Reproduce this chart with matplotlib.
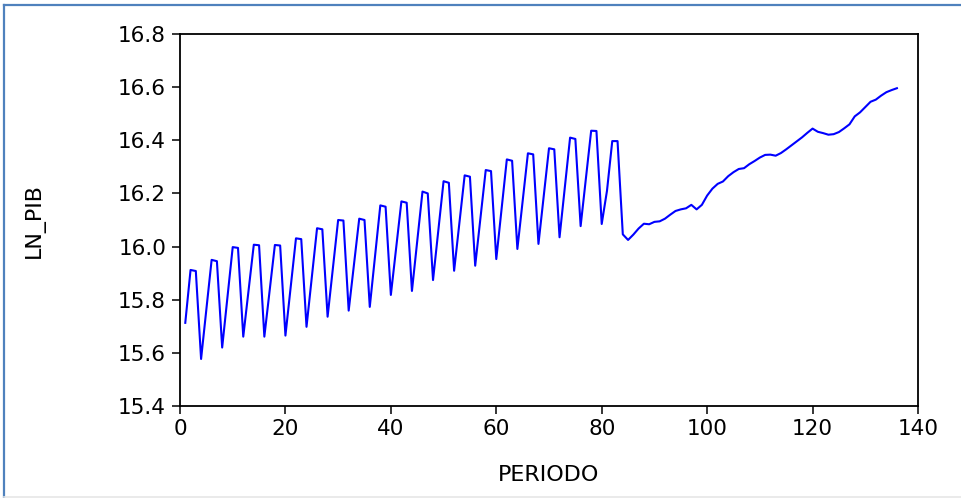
import matplotlib
matplotlib.use("Agg")
import matplotlib.pyplot as plt
from matplotlib.lines import Line2D
import numpy as np

periods = list(range(1, 137))
ln_pib = [
    15.713, 15.912, 15.908, 15.577, 15.764, 15.950, 15.945, 15.620, 15.809, 15.998,
    15.995, 15.661, 15.834, 16.007, 16.005, 15.661, 15.833, 16.006, 16.004, 15.665,
    15.848, 16.031, 16.028, 15.698, 15.883, 16.069, 16.065, 15.736, 15.918, 16.100,
    16.098, 15.759, 15.932, 16.105, 16.100, 15.773, 15.964, 16.155, 16.150, 15.818,
    15.994, 16.170, 16.165, 15.833, 16.020, 16.207, 16.200, 15.874, 16.060, 16.246,
    16.240, 15.909, 16.089, 16.268, 16.263, 15.928, 16.108, 16.288, 16.284, 15.953,
    16.140, 16.328, 16.323, 15.991, 16.171, 16.351, 16.347, 16.010, 16.190, 16.370,
    16.366, 16.035, 16.222, 16.410, 16.405, 16.077, 16.256, 16.436, 16.435, 16.085,
    16.210, 16.397, 16.397, 16.046, 16.025, 16.045, 16.068, 16.086, 16.084, 16.093,
    16.095, 16.105, 16.120, 16.134, 16.140, 16.144, 16.157, 16.140, 16.157, 16.192,
    16.218, 16.236, 16.245, 16.265, 16.280, 16.292, 16.295, 16.310, 16.322, 16.335,
    16.345, 16.346, 16.342, 16.352, 16.366, 16.381, 16.396, 16.411, 16.428, 16.444,
    16.432, 16.427, 16.421, 16.423, 16.431, 16.445, 16.460, 16.490, 16.505, 16.525,
    16.545, 16.553, 16.568, 16.581, 16.589, 16.596,
]
x_ticks = [0, 20, 40, 60, 80, 100, 120, 140]
y_ticks = [15.4, 15.6, 15.8, 16.0, 16.2, 16.4, 16.6, 16.8]

plt.rcParams['font.family'] = ['DejaVu Sans']

fig = plt.figure(figsize=(9.61, 4.98), dpi=100)
ax = fig.add_axes([180/961, 1-406/498, (918-180)/961, (406-34)/498])

ax.plot(periods, ln_pib, color='#0000ff', lw=1.5)

ax.set_xlim(0, 140)
ax.set_ylim(15.4, 16.8)
ax.set_xticks(x_ticks)
ax.set_yticks(y_ticks)
ax.set_yticklabels([f"{v:.1f}" for v in y_ticks])
ax.tick_params(direction='out', length=6, width=1.1, labelsize=15.5,
               top=False, right=False, colors='black')
ax.tick_params(axis='y', pad=4)
ax.tick_params(axis='x', pad=3)
for s in ax.spines.values():
    s.set_linewidth(1.3)
    s.set_color('black')

ax.set_ylabel('LN_PIB', fontsize=16)
ax.set_xlabel('PERIODO', fontsize=16)
ax.yaxis.set_label_coords((45-180)/738, 0.5)
ax.xaxis.set_label_coords(0.5, -(465-406)/372)

# Outer frame (pasted-document border)
fig.add_artist(Line2D([4/961, 4/961], [0, 1-5/498], transform=fig.transFigure,
                      color='#4f81bd', lw=1.6))
fig.add_artist(Line2D([4/961, 1], [1-5/498, 1-5/498], transform=fig.transFigure,
                      color='#4f81bd', lw=1.6))
fig.add_artist(Line2D([4/961, 1], [1/498, 1/498], transform=fig.transFigure,
                      color='#e6e6e6', lw=1.2))

fig.savefig('out.png', dpi=100)
